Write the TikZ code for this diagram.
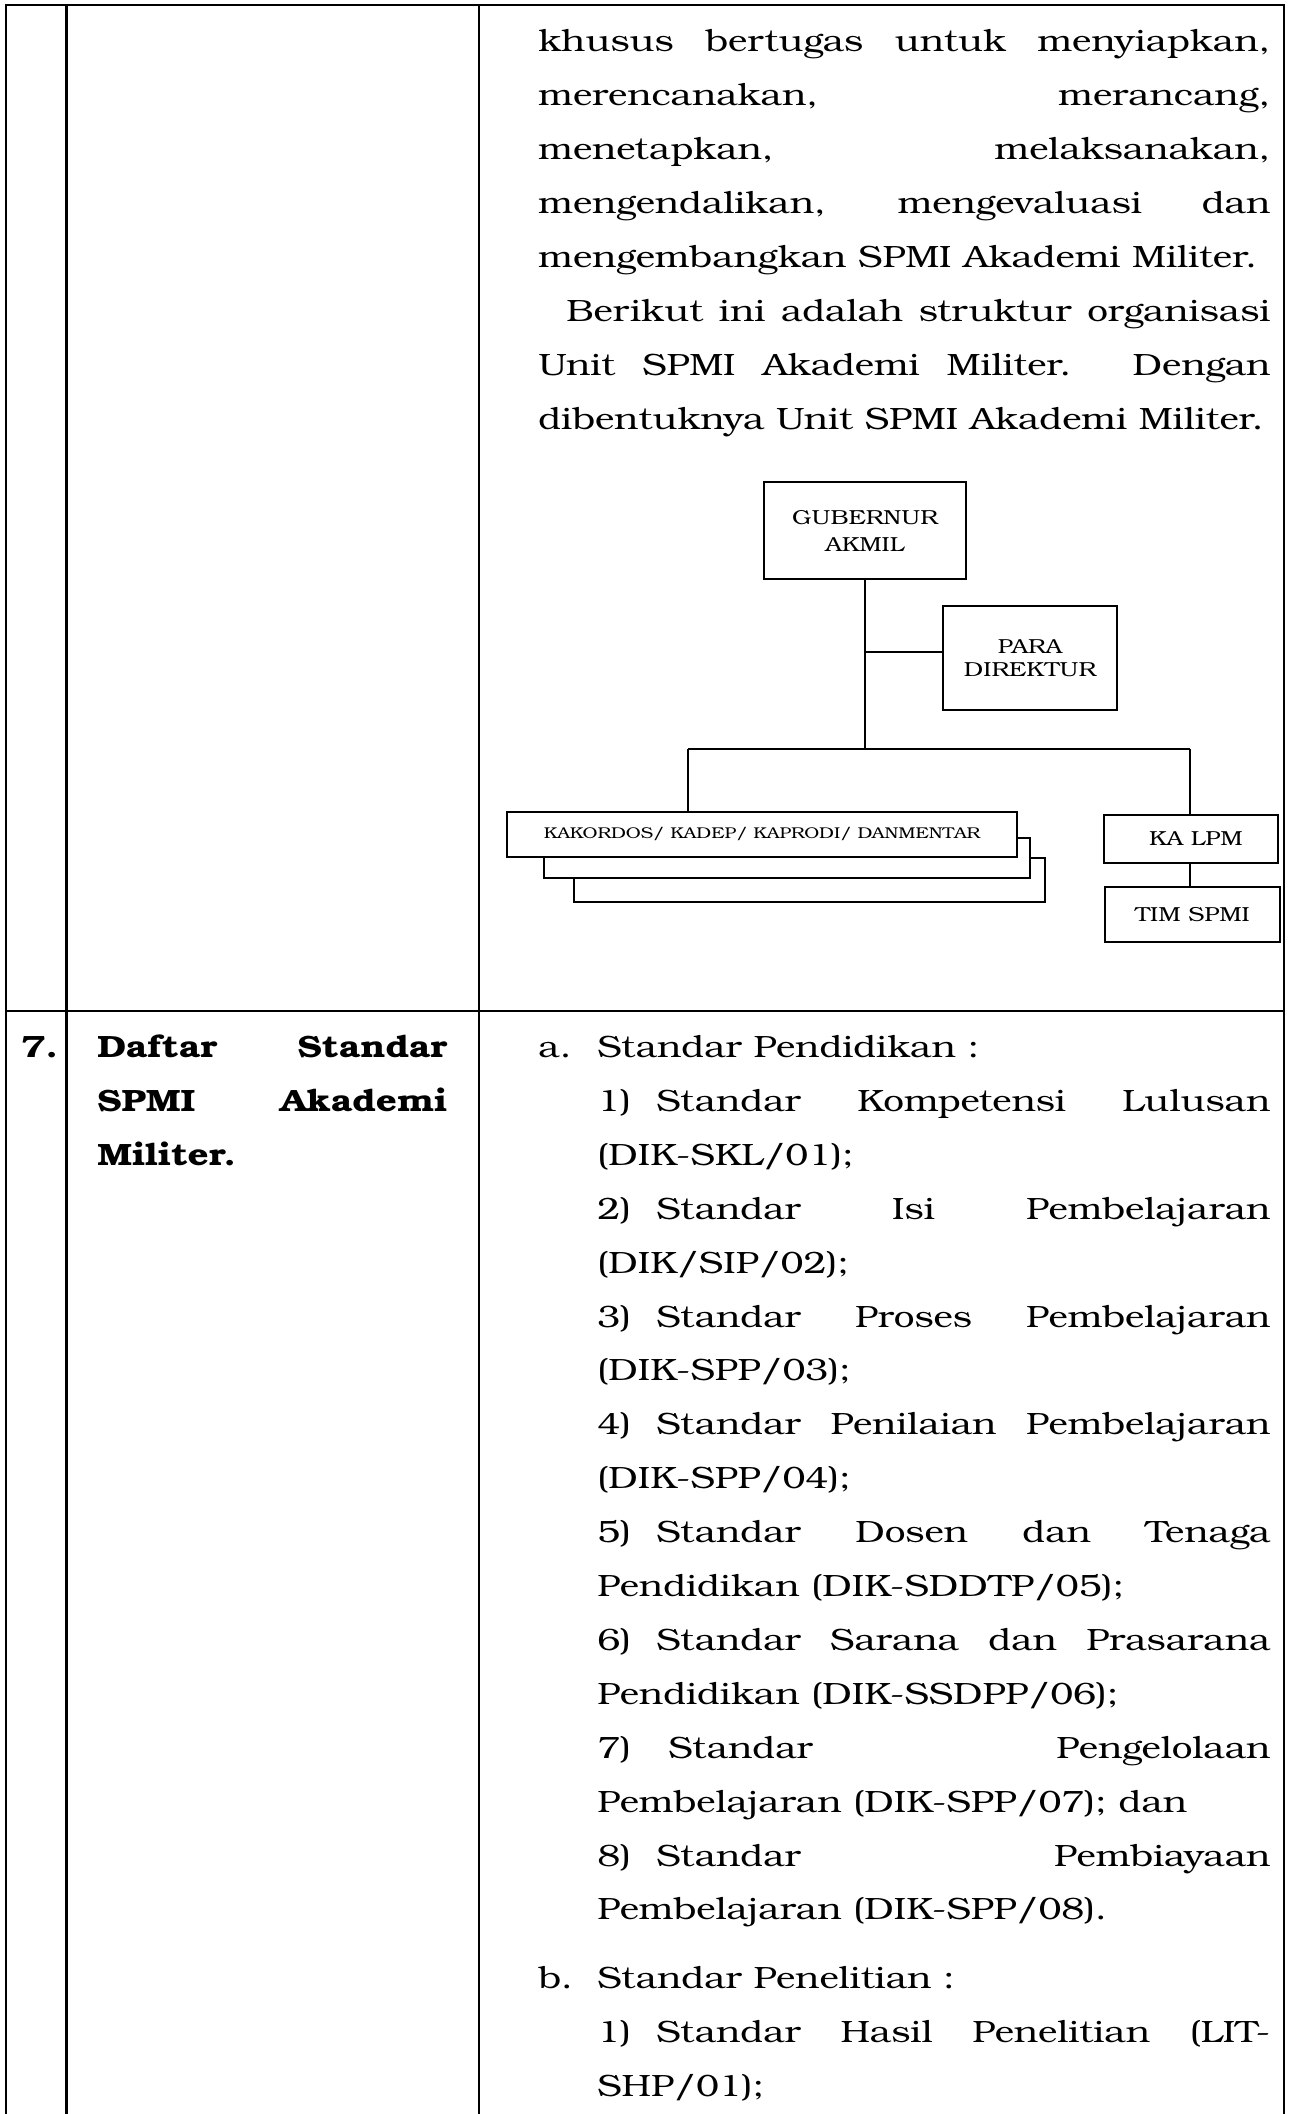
\documentclass[tikz,border=0pt]{standalone}
\usepackage{fontspec}
\setmainfont{TeX Gyre Bonum}[FakeStretch=1.195]
\newcommand{\jbox}[2]{\makebox[#1][s]{#2}}
\newcommand{\bodyfnt}{\fontsize{15.4pt}{20pt}\selectfont}
\newcommand{\orgfnt}{\fontsize{10.15pt}{13.5pt}\selectfont}
\begin{document}
\begin{tikzpicture}[x=0.5pt,y=-0.5pt,
  tl/.style={line width=1.25pt, line cap=rect},
  body/.style={anchor=base west, inner sep=0pt, font=\bodyfnt},
  bbody/.style={anchor=base west, inner sep=0pt, font=\bodyfnt\bfseries},
  orgbox/.style={draw, line width=1pt, fill=white, inner sep=0pt, align=center, font=\orgfnt},
  conn/.style={line width=1pt}]
\useasboundingbox (0,0) rectangle (1291,2114);
% ---- table rules
\draw[tl] (6,5) -- (1284,5);
\draw[tl] (6,1011) -- (1284,1011);
\draw[tl] (6,5) -- (6,2120);
\draw[tl] (66.5,5) -- (66.5,2120);
\draw[tl] (479,5) -- (479,2120);
\draw[tl] (1284,5) -- (1284,2120);
% ---- upper text
\node[body] (t1) at (538,52) {\jbox{366pt}{khusus bertugas untuk menyiapkan,}};
\node[body] (t2) at (538,105.9) {\jbox{366pt}{merencanakan, merancang,}};
\node[body] (t3) at (538,159.8) {\jbox{366pt}{menetapkan, melaksanakan,}};
\node[body] (t4) at (538,213.7) {\jbox{366pt}{mengendalikan, mengevaluasi dan}};
\node[body] (t5) at (538,267.6) {mengembangkan SPMI Akademi Militer.};
\node[body] (t6) at (566,321.5) {\jbox{352pt}{Berikut ini adalah struktur organisasi}};
\node[body] (t7) at (538,375.4) {\jbox{366pt}{Unit SPMI Akademi Militer. Dengan}};
\node[body] (t8) at (538,429.3) {dibentuknya Unit SPMI Akademi Militer.};
% ---- org chart
\node[orgbox, minimum width=101pt, minimum height=48.5pt] (gub) at (865,530.5) {GUBERNUR\\AKMIL};
\node[orgbox, minimum width=87pt, minimum height=52pt, font=\fontsize{10.15pt}{11.6pt}\selectfont] (para) at (1030,658) {PARA\\DIREKTUR};
\node[orgbox, minimum width=235.5pt, minimum height=22pt] (kak3) at (809.5,880) {};
\node[orgbox, minimum width=243pt, minimum height=20pt] (kak2) at (787,858) {};
\node[orgbox, minimum width=255pt, minimum height=22.5pt, font=\fontsize{7.8pt}{9pt}\selectfont] (kak) at (762,834.5) {\raisebox{1.5pt}{KAKORDOS/ KADEP/ KAPRODI/ DANMENTAR}};
\node[orgbox, minimum width=87pt, minimum height=24pt] (lpm) at (1191,839) {\hspace*{5pt}KA LPM};
\node[orgbox, minimum width=87.5pt, minimum height=27.5pt] (tim) at (1192.5,914.5) {TIM SPMI};
\coordinate (jp) at (865,652);
\coordinate (bl) at (688,749);
\coordinate (br) at (1190,749);
\draw[conn] (gub.south) -- (gub.south |- bl);
\draw[conn] (jp) -- (para.west |- jp);
\draw[conn] (bl) -- (br);
\draw[conn] (bl) -- (bl |- kak.north);
\draw[conn] (br) -- (br |- lpm.north);
\draw[conn] (br |- lpm.south) -- (br |- tim.north);
% ---- row 7 left
\node[bbody] (n7) at (21,1057.5) {7.};
\node[bbody] (h1) at (97,1057.5) {\jbox{175pt}{Daftar Standar}};
\node[bbody] (h2) at (97,1111.4) {\jbox{175pt}{SPMI Akademi}};
\node[bbody] (h3) at (97,1165.3) {Militer.};
% ---- row 7 right
\node[body] (la) at (538,1057.5) {a.};
\node[body] (ta) at (597,1057.5) {Standar Pendidikan :};
\node[body] (l1) at (597,1111.4) {1)};
\node[body] (s1) at (656,1111.4) {\jbox{307pt}{Standar Kompetensi Lulusan}};
\node[body] (c1) at (597,1165.3) {(DIK-SKL/01);};
\node[body] (l2) at (597,1219.2) {2)};
\node[body] (s2) at (656,1219.2) {\jbox{307pt}{Standar Isi Pembelajaran}};
\node[body] (c2) at (597,1273.1) {(DIK/SIP/02);};
\node[body] (l3) at (597,1327.0) {3)};
\node[body] (s3) at (656,1327.0) {\jbox{307pt}{Standar Proses Pembelajaran}};
\node[body] (c3) at (597,1380.9) {(DIK-SPP/03);};
\node[body] (l4) at (597,1434.8) {4)};
\node[body] (s4) at (656,1434.8) {\jbox{307pt}{Standar Penilaian Pembelajaran}};
\node[body] (c4) at (597,1488.7) {(DIK-SPP/04);};
\node[body] (l5) at (597,1542.6) {5)};
\node[body] (s5) at (656,1542.6) {\jbox{307pt}{Standar Dosen dan Tenaga}};
\node[body] (c5) at (597,1596.5) {Pendidikan (DIK-SDDTP/05);};
\node[body] (l6) at (597,1650.4) {6)};
\node[body] (s6) at (656,1650.4) {\jbox{307pt}{Standar Sarana dan Prasarana}};
\node[body] (c6) at (597,1704.3) {Pendidikan (DIK-SSDPP/06);};
\node[body] (l7) at (597,1758.2) {7)};
\node[body] (s7) at (668,1758.2) {\jbox{301pt}{Standar Pengelolaan}};
\node[body] (c7) at (597,1812.1) {Pembelajaran (DIK-SPP/07); dan};
\node[body] (l8) at (597,1866.0) {8)};
\node[body] (s8) at (656,1866.0) {\jbox{307pt}{Standar Pembiayaan}};
\node[body] (c8) at (597,1919.9) {Pembelajaran (DIK-SPP/08).};
\node[body] (lb) at (538,1988.5) {b.};
\node[body] (tb) at (597,1988.5) {Standar Penelitian :};
\node[body] (lb1) at (597,2042.4) {1)};
\node[body] (sb1) at (656,2042.4) {\jbox{307pt}{Standar Hasil Penelitian (LIT-}};
\node[body] (cb1) at (597,2096.3) {SHP/01);};
\end{tikzpicture}
\end{document}
